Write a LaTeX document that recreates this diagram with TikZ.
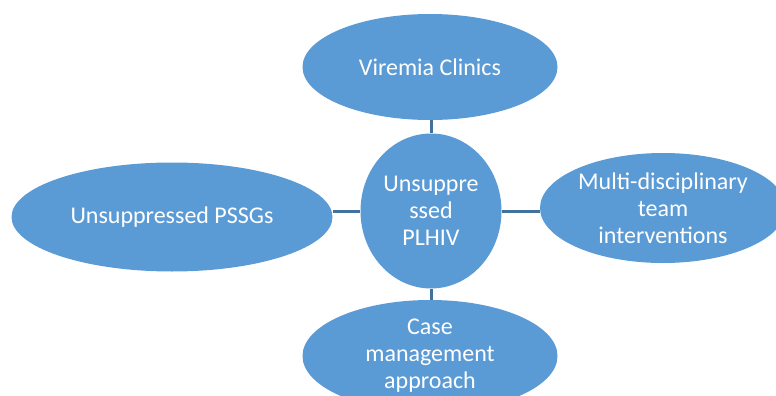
\documentclass[tikz,border=0pt]{standalone}
\usepackage{fontspec}
\setmainfont{Carlito}
\usetikzlibrary{shapes.geometric}
\definecolor{bubble}{HTML}{5B9BD5}
\definecolor{link}{HTML}{41719C}
\tikzset{
  bub/.style={ellipse, fill=bubble, draw=none, inner sep=0pt, text=white,
    align=center, font=\fontsize{24}{27}\selectfont},
  conn/.style={draw=link, line width=3pt}
}
\begin{document}
\begin{tikzpicture}[x=1pt,y=-1pt]
\useasboundingbox (0,0) rectangle (776,396);
\clip (0,0) rectangle (776,396);
\node[bub, minimum width=255pt, minimum height=106pt] (top) at (430,67) {Viremia Clinics};
\node[bub, minimum width=141pt, minimum height=155pt] (c) at (431,211) {Unsuppre\\ssed\\PLHIV};
\node[bub, minimum width=321pt, minimum height=109pt] (l) at (172,217) {Unsuppressed PSSGs};
\node[bub, minimum width=246pt, minimum height=110pt] (r) at (663,208) {Multi-disciplinary\\team\\interventions};
\node[bub, minimum width=255pt, minimum height=112pt] (b) at (430,356) {Case\\management\\approach};
\draw[conn] (c.north) -- (c.north |- top.south);
\draw[conn] (c.south) -- (c.south |- b.north);
\draw[conn] (c.west) -- (c.west -| l.east);
\draw[conn] (c.east) -- (c.east -| r.west);
\end{tikzpicture}
\end{document}
